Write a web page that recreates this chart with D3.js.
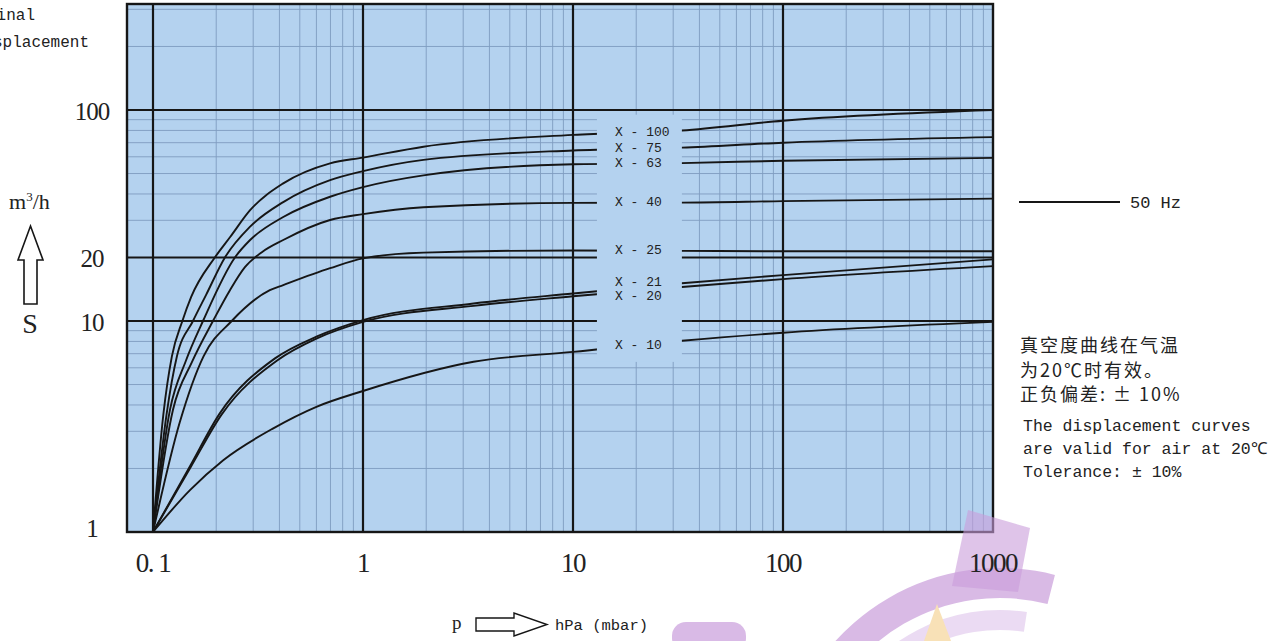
<!DOCTYPE html>
<html>
<head>
<meta charset="utf-8">
<script src="https://d3js.org/d3.v7.min.js"></script>
<style>
  body { margin: 0; background: #fff; }
  svg { display: block; }
</style>
</head>
<body>
<div id="chart"></div>
<script>

// pump names, top to bottom
const curveNames = ["X - 100", "X - 75", "X - 63", "X - 40", "X - 25", "X - 21", "X - 20", "X - 10"];

// pressure p (hPa) and displacement S (m3/h)
const pX100 = [0.1, 0.112, 0.123, 0.138, 0.152, 0.197, 0.233, 0.29, 0.417, 0.697, 1, 1.94, 10, 33, 100, 1000];
const sX100 = [1, 3.6, 6.8, 10, 13, 20, 25, 33.5, 44.9, 55.9, 59.5, 67, 76.2, 80, 89, 100];

const pX75 = [0.1, 0.116, 0.13, 0.155, 0.179, 0.22, 0.29, 0.417, 0.697, 1, 1.94, 10, 33, 100, 1000];
const sX75 = [1, 3.6, 6.8, 10, 13.3, 20, 28, 36.6, 46.5, 51.3, 58, 64.3, 66.3, 70, 74.4];

const pX63 = [0.1, 0.1205, 0.1436, 0.173, 0.2455, 0.29, 0.417, 0.697, 1, 1.94, 10, 33, 100, 1000];
const sX63 = [1, 3.8, 6.5, 10, 20, 24.2, 31.1, 38.8, 43.1, 49, 55.3, 56, 57.5, 59.3];

const pX40 = [0.1, 0.1245, 0.1534, 0.193, 0.2325, 0.274, 0.33, 0.417, 0.697, 1, 1.94, 10, 33, 100, 1000];
const sX40 = [1, 3.8, 6.4, 10, 14, 18, 21.2, 24.2, 30.1, 32.1, 34.6, 36.3, 36.4, 37, 38];

const pX25 = [0.1, 0.134, 0.174, 0.237, 0.36, 0.417, 0.697, 1, 1.94, 10, 33, 100, 1000];
const sX25 = [1, 3.3, 6.8, 10, 14, 14.8, 17.8, 19.8, 21.1, 21.6, 21.5, 21.4, 21.4];

const pX21 = [0.1, 0.15, 0.208, 0.381, 0.6, 1, 3.36, 10, 33, 100, 1000];
const sX21 = [1, 2.05, 3.65, 6.65, 8.43, 10.1, 12.1, 13.5, 15.1, 16.5, 19.6];

const pX20 = [0.1, 0.152, 0.212, 0.39, 0.6, 1, 3.36, 10, 33, 100, 1000];
const sX20 = [1, 2.05, 3.6, 6.5, 8.25, 9.9, 11.8, 13.1, 14.5, 15.8, 18.2];

const pX10 = [0.1, 0.15, 0.216, 0.374, 0.6, 1, 3.36, 10, 33, 100, 1000];
const sX10 = [1, 1.58, 2.19, 3.1, 3.92, 4.66, 6.41, 7.14, 8.06, 8.8, 9.9];

// axis tick labels
const xTickValues = [0.1, 1, 10, 100, 1000];
const xTickLabels = ["0. 1", "1", "10", "100", "1000"];
const yTickValues = [1, 10, 20, 100];
const yTickLabels = ["1", "10", "20", "100"];

// notes at the right
const noteCn = ["真空度曲线在气温", "为20℃时有效。", "正负偏差: ± 10%"];
const noteEn = ["The displacement curves", "are valid for air at 20℃", "Tolerance: ± 10%"];

const curves = [
  {p: pX100, s: sX100}, {p: pX75, s: sX75}, {p: pX63, s: sX63}, {p: pX40, s: sX40},
  {p: pX25, s: sX25}, {p: pX21, s: sX21}, {p: pX20, s: sX20}, {p: pX10, s: sX10}
].map((c, i) => ({name: curveNames[i], p: c.p, s: c.s}));

const W = 1285, H = 641;
const bg = "#b4d2ef", ink = "#161616";

const svg = d3.select("#chart").append("svg")
    .attr("width", W).attr("height", H)
    .style("font-family", "'Liberation Serif', serif");

// scales: log pressure and log displacement
const x = d3.scaleLog().domain([0.1, 1000]).range([153, 993]);
const y = d3.scaleLog().domain([1, 100]).range([532, 110]);
const plot = {left: 127, right: x(1000), top: 4, bottom: y(1)};

// faint logo watermark at the bottom right (drawn first, mostly outside the plot)
const wm = svg.append("g").attr("opacity", 0.7);
wm.append("path")
    .attr("transform", "translate(1000,790)")
    .attr("d", d3.arc()({innerRadius: 192, outerRadius: 222, startAngle: -1.3, endAngle: 0.25}))
    .attr("fill", "#c99ddb");
wm.append("path")
    .attr("transform", "translate(1000,790)")
    .attr("d", d3.arc()({innerRadius: 160, outerRadius: 180, startAngle: -1.1, endAngle: 0.15}))
    .attr("fill", "#e3cdee");
wm.append("rect").attr("x", 672).attr("y", 622).attr("width", 74).attr("height", 30).attr("rx", 14)
    .attr("fill", "#c99ddb");
wm.append("path").attr("d", "M937,604 L924,641 L951,641 Z").attr("fill", "#f6d59a");

// plot background
svg.append("rect")
    .attr("x", plot.left).attr("y", plot.top)
    .attr("width", plot.right - plot.left).attr("height", plot.bottom - plot.top)
    .attr("fill", bg);

// minor grid
const xMinor = [];
[0.1, 1, 10, 100].forEach(dec => d3.range(2, 10).forEach(k => xMinor.push(dec * k)));
const yMinor = [];
[1, 10, 100].forEach(dec => d3.range(2, 10).forEach(k => yMinor.push(dec * k)));
const yMajor = [10, 20, 100];
const xMajor = [0.1, 1, 10, 100];

const grid = svg.append("g");
grid.selectAll("line.xm").data(xMinor).join("line")
    .attr("x1", d => x(d)).attr("x2", d => x(d))
    .attr("y1", plot.top).attr("y2", plot.bottom)
    .attr("stroke", "#7f9cc0").attr("stroke-width", 0.9);
grid.selectAll("line.ym").data(yMinor.filter(d => !yMajor.includes(d) && y(d) > plot.top)).join("line")
    .attr("x1", plot.left).attr("x2", plot.right)
    .attr("y1", d => y(d)).attr("y2", d => y(d))
    .attr("stroke", "#7f9cc0").attr("stroke-width", 0.9);

// major grid
grid.selectAll("line.xM").data(xMajor).join("line")
    .attr("x1", d => x(d)).attr("x2", d => x(d))
    .attr("y1", plot.top).attr("y2", plot.bottom)
    .attr("stroke", ink).attr("stroke-width", 2.2);
grid.selectAll("line.yM").data(yMajor).join("line")
    .attr("x1", plot.left).attr("x2", plot.right)
    .attr("y1", d => y(d)).attr("y2", d => y(d))
    .attr("stroke", ink).attr("stroke-width", 2.2);

// curves
const line = d3.line()
    .x(d => x(d[0]))
    .y(d => y(d[1]))
    .curve(d3.curveMonotoneX);

svg.append("g").selectAll("path").data(curves).join("path")
    .attr("d", c => line(d3.zip(c.p, c.s)))
    .attr("fill", "none")
    .attr("stroke", ink)
    .attr("stroke-width", 1.9);

// blank box for the curve names (p 13..33)
svg.append("rect")
    .attr("x", x(13)).attr("y", y(95))
    .attr("width", x(33) - x(13)).attr("height", y(6.4) - y(95))
    .attr("fill", bg);

const nudge = {"X - 21": -5, "X - 20": 6};
svg.append("g").selectAll("text").data(curves).join("text")
    .attr("x", x(13) + 18)
    .attr("y", c => y(d3.scaleLog().domain(c.p).range(c.s)(20)) + (nudge[c.name] || 0))
    .attr("dominant-baseline", "central")
    .style("font-family", "'Liberation Mono', monospace")
    .style("font-size", "13px")
    .attr("fill", "#222")
    .text(c => c.name);

// frame
svg.append("rect")
    .attr("x", plot.left).attr("y", plot.top)
    .attr("width", plot.right - plot.left).attr("height", plot.bottom - plot.top)
    .attr("fill", "none").attr("stroke", ink).attr("stroke-width", 2.4);

// gear tooth of the watermark, tinting the plot corner
svg.append("path")
    .attr("d", "M968,510 L1030,528 L1018,592 L952,586 Z")
    .attr("fill", "#c99ddb").attr("opacity", 0.6);

// tick labels
svg.append("g").selectAll("text").data(xTickValues).join("text")
    .attr("x", d => x(d)).attr("y", 572)
    .attr("text-anchor", "middle")
    .style("font-size", "27px").style("letter-spacing", "-1.5px")
    .attr("fill", "#222")
    .text((d, i) => xTickLabels[i]);

svg.append("g").selectAll("text").data(yTickValues).join("text")
    .attr("x", 92).attr("y", d => Math.min(y(d) + 10, 537))
    .attr("text-anchor", "middle")
    .style("font-size", "25px").style("letter-spacing", "-1px")
    .attr("fill", "#222")
    .text((d, i) => yTickLabels[i]);

// axis titles
const mono = "'Liberation Mono', monospace";
svg.append("text").attr("x", 35).attr("y", 20).attr("text-anchor", "end")
    .style("font-family", mono).style("font-size", "16px").attr("fill", "#222").text("Nominal");
svg.append("text").attr("x", 89).attr("y", 47).attr("text-anchor", "end")
    .style("font-family", mono).style("font-size", "16px").attr("fill", "#222").text("Displacement");

const unit = svg.append("text").attr("x", 9).attr("y", 209)
    .style("font-size", "22px").attr("fill", "#222");
unit.append("tspan").text("m");
unit.append("tspan").attr("dy", -8).style("font-size", "13px").text("3");
unit.append("tspan").attr("dy", 8).text("/h");

svg.append("path")
    .attr("d", "M30.5,226 L43,260 L37,260 L37,304 L24,304 L24,260 L18,260 Z")
    .attr("fill", "none").attr("stroke", ink).attr("stroke-width", 1.6);
svg.append("text").attr("x", 30).attr("y", 333).attr("text-anchor", "middle")
    .style("font-size", "28px").attr("fill", "#222").text("S");

svg.append("text").attr("x", 452).attr("y", 629)
    .style("font-size", "19px").attr("fill", "#222").text("p");
svg.append("path")
    .attr("d", "M476,618 L514,618 L514,613 L547,624.5 L514,636 L514,631 L476,631 Z")
    .attr("fill", "none").attr("stroke", ink).attr("stroke-width", 1.4);
svg.append("text").attr("x", 555).attr("y", 630)
    .style("font-family", mono).style("font-size", "15.5px").attr("fill", "#222").text("hPa (mbar)");

// legend
svg.append("line").attr("x1", 1019).attr("x2", 1120).attr("y1", 202).attr("y2", 202)
    .attr("stroke", ink).attr("stroke-width", 2);
svg.append("text").attr("x", 1130).attr("y", 208)
    .style("font-family", mono).style("font-size", "17px").attr("fill", "#222").text("50 Hz");

// notes
svg.append("g").selectAll("text").data(noteCn).join("text")
    .attr("x", 1020).attr("y", (d, i) => 352 + i * 24.5)
    .style("font-family", "'Noto Sans CJK SC', sans-serif")
    .style("font-size", "18px").style("letter-spacing", "2px")
    .attr("fill", "#222")
    .text(d => d);
svg.append("g").selectAll("text").data(noteEn).join("text")
    .attr("x", 1023).attr("y", (d, i) => 431 + i * 23)
    .style("font-family", mono).style("font-size", "16.5px")
    .attr("fill", "#222")
    .text(d => d);

</script>
</body>
</html>
